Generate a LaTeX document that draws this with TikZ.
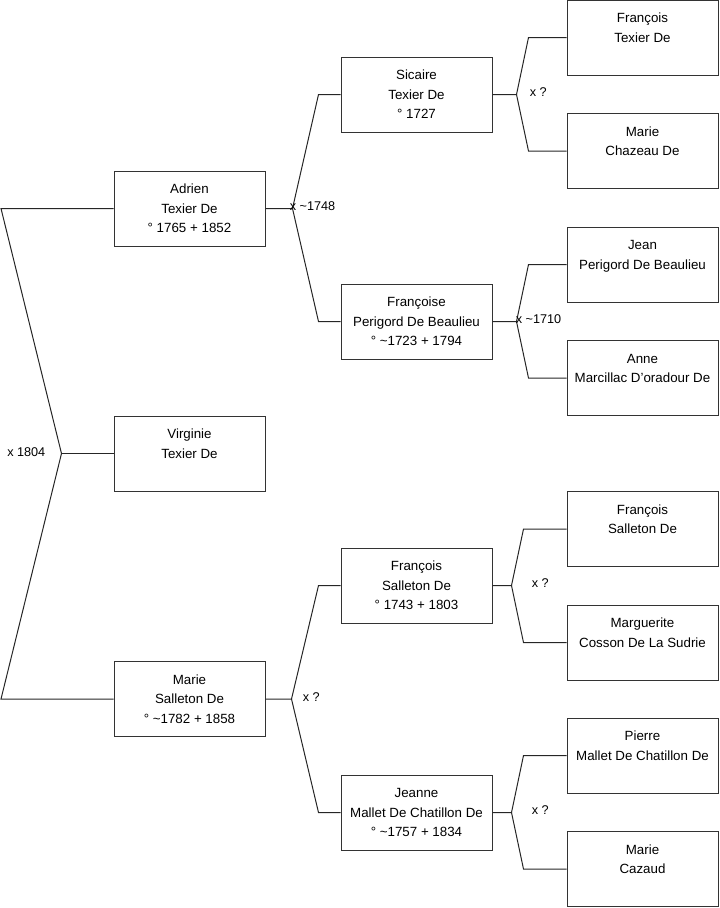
\documentclass[tikz,border=0pt]{standalone}
\usepackage{fontspec}
\setmainfont{Liberation Sans}
\usetikzlibrary{calc}

\begin{document}
\begin{tikzpicture}[x=0.75pt,y=-0.75pt,
  person/.style={draw=black!80,line width=0.75pt,minimum width=113.25pt,minimum height=56.25pt,
    inner sep=0pt,align=center,font=\fontsize{10}{14.6}\selectfont},
  link/.style={draw=black!85,line width=0.75pt},
  wed/.style={anchor=west,inner sep=0pt,font=\fontsize{9.5}{11}\selectfont}]
\useasboundingbox (0,0) rectangle (719,908);

% children
\node[person] (adrien) at (189.5,208.5) {Adrien\\Texier De\\° 1765 + 1852};
\node[person] (virginie) at (189.5,453.5) {Virginie\\Texier De\\~};
\node[person] (marie) at (189.5,699) {Marie\\Salleton De\\° \textasciitilde1782 + 1858};

% parents
\node[person] (sicaire) at (416.5,94.5) {Sicaire\\Texier De\\° 1727};
\node[person] (francoise) at (416.5,321.5) {Françoise\\Perigord De Beaulieu\\° \textasciitilde1723 + 1794};
\node[person] (francois) at (416.5,585.5) {François\\Salleton De\\° 1743 + 1803};
\node[person] (jeanne) at (416.5,812.5) {Jeanne\\Mallet De Chatillon De\\° \textasciitilde1757 + 1834};

% grandparents
\foreach \n/\y/\t in {texierF/37.5/François\\Texier De, chazeau/151/Marie\\Chazeau De,
  perigordJ/264.5/Jean\\Perigord De Beaulieu, marcillac/378/Anne\\Marcillac D'oradour De,
  salletonF/529/François\\Salleton De, cosson/642.5/Marguerite\\Cosson De La Sudrie,
  malletP/755.5/Pierre\\Mallet De Chatillon De, cazaud/869/Marie\\Cazaud}{
  \node[person] (\n) at (642.5,\y) {\t\\~};
}

% root fork
\coordinate (root) at (61.5,453.5);
\draw[link] (adrien.west) -- (adrien.west -| 1,0) -- (root) -- (marie.west -| 1,0) -- (marie.west);
\draw[link] (root) -- (virginie.west);
\node[wed] (w-root) at (7,452) {x 1804};

% couples
\foreach \p/\a/\b/\v/\e/\o/\t in {
  adrien/sicaire/francoise/27/22/-3/x \textasciitilde1748,
  marie/francois/jeanne/26/22/11/x ?,
  sicaire/texierF/chazeau/24/38/13/x ?,
  francoise/perigordJ/marcillac/24/38/-1/x \textasciitilde1710,
  francois/salletonF/cosson/19/43/20/x ?,
  jeanne/malletP/cazaud/19/43/20/x ?}{
  \coordinate (v-\p) at ($(\p.east)+(\v,0)$);
  \draw[link] (\p.east) -- (v-\p) -- ($(\a.west)+(-\e,0)$) -- (\a.west);
  \draw[link] (v-\p) -- ($(\b.west)+(-\e,0)$) -- (\b.west);
  \node[wed] (w-\p) at ($(v-\p)+(\o,-2)$) {\t};
}
\end{tikzpicture}
\end{document}
